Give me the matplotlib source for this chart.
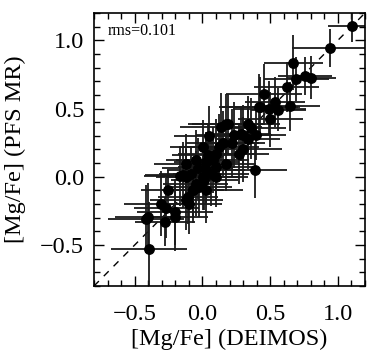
import matplotlib
matplotlib.use("Agg")
import matplotlib.pyplot as plt
from matplotlib.ticker import MultipleLocator
import numpy as np

plt.rcParams['font.family'] = ['Liberation Serif', 'DejaVu Serif']
plt.rcParams['mathtext.fontset'] = 'stix'

mg_deimos = [1.105, 0.939, 0.671, 0.693, 0.755, 0.804, 0.623, 0.456, 0.537, 0.493,
             0.561, 0.426, 0.645, 0.500, 0.419, 0.174, 0.137, 0.333, 0.358, 0.395,
             0.235, 0.284, 0.333, 0.149, 0.002, 0.272, 0.100, 0.039, 0.387, -0.047,
             0.076, -0.120, 0.174, 0.100, -0.035, 0.027, -0.083, -0.169, -0.120, 0.064,
             0.100, 0.002, -0.071, -0.022, 0.027, -0.108, -0.096, -0.255, -0.309, -0.267,
             -0.200, -0.199, -0.274, -0.402, -0.419, -0.397,
             0.186, 0.125, 0.027, -0.145, 0.015, -0.071, -0.120, 0.220, 0.300, 0.050,
             -0.050, 0.296]
mg_pfs = [1.105, 0.944, 0.837, 0.717, 0.736, 0.727, 0.658, 0.603, 0.548, 0.500,
          0.493, 0.512, 0.517, 0.420, 0.512, 0.390, 0.365, 0.390, 0.354, 0.305,
          0.305, 0.317, 0.280, 0.244, 0.219, 0.170, 0.170, 0.158, 0.048, 0.122,
          0.122, 0.097, 0.097, 0.072, 0.061, 0.048, 0.024, 0.004, 0.000, 0.024,
          0.000, 0.000, -0.098, -0.074, -0.098, -0.147, -0.196, -0.098, -0.196, -0.232,
          -0.257, -0.293, -0.330, -0.293, -0.310, -0.532,
          0.390, 0.219, 0.110, 0.012, -0.025, -0.098, -0.171, 0.250, 0.200, 0.300,
          -0.050, 0.305]
err_deimos = [0.18, 0.28, 0.22, 0.24, 0.20, 0.18, 0.24, 0.28, 0.22, 0.27,
              0.20, 0.28, 0.22, 0.24, 0.30, 0.28, 0.30, 0.24, 0.26, 0.22,
              0.28, 0.22, 0.24, 0.27, 0.24, 0.22, 0.28, 0.26, 0.24, 0.22,
              0.27, 0.24, 0.22, 0.28, 0.26, 0.29, 0.24, 0.26, 0.22, 0.28,
              0.24, 0.27, 0.22, 0.24, 0.27, 0.22, 0.24, 0.20, 0.27, 0.24,
              0.28, 0.24, 0.22, 0.24, 0.28, 0.28,
              0.26, 0.29, 0.24, 0.28, 0.25, 0.23, 0.27, 0.24, 0.29, 0.26,
              0.24, 0.22]
err_pfs = [0.12, 0.14, 0.20, 0.16, 0.14, 0.16, 0.18, 0.22, 0.18, 0.20,
           0.16, 0.22, 0.18, 0.20, 0.24, 0.22, 0.25, 0.20, 0.22, 0.18,
           0.24, 0.20, 0.22, 0.24, 0.20, 0.22, 0.25, 0.22, 0.20, 0.22,
           0.24, 0.22, 0.20, 0.24, 0.22, 0.24, 0.20, 0.22, 0.20, 0.24,
           0.22, 0.24, 0.20, 0.22, 0.24, 0.20, 0.22, 0.15, 0.24, 0.22,
           0.24, 0.25, 0.18, 0.25, 0.25, 0.35,
           0.22, 0.24, 0.22, 0.24, 0.22, 0.24, 0.22, 0.25, 0.24, 0.22,
           0.24, 0.22]
rms_text = "rms=0.101"
axis_range = [-0.8, 1.2]
tick_vals = [-0.5, 0.0, 0.5, 1.0]

fig = plt.figure(figsize=(3.82, 3.51), dpi=100)
ax = fig.add_axes([94/382, 1 - 286/351, (365-94)/382, (286-13)/351])

ax.plot(axis_range, axis_range, ls=(0, (5, 5)), color='black', lw=1.0, zorder=1)
ax.errorbar(mg_deimos, mg_pfs, xerr=err_deimos, yerr=err_pfs, fmt='o',
            color='black', ecolor='#1a1a1a', elinewidth=1.3, capsize=0,
            markersize=6.8, zorder=2)

ax.set_xlim(axis_range)
ax.set_ylim(axis_range)
ax.set_xticks(tick_vals)
ax.set_yticks(tick_vals)
ax.xaxis.set_minor_locator(MultipleLocator(0.1))
ax.yaxis.set_minor_locator(MultipleLocator(0.1))
ax.tick_params(which='both', direction='in', top=True, right=True, labelsize=17.5, width=1)
ax.tick_params(which='major', length=7)
ax.tick_params(which='minor', length=4)
ax.tick_params(axis='x', which='major', pad=13)
ax.tick_params(axis='y', which='major', pad=7)
fmt = plt.FuncFormatter(lambda v, p: f"{v:.1f}".replace('-', '\u2212'))
ax.xaxis.set_major_formatter(fmt)
ax.yaxis.set_major_formatter(fmt)
for s in ax.spines.values():
    s.set_linewidth(1.2)

ax.set_xlabel('[Mg/Fe] (DEIMOS)', fontsize=17.5, labelpad=3)
ax.set_ylabel('[Mg/Fe] (PFS MR)', fontsize=17.5, labelpad=10)
ax.text(0.052, 0.963, rms_text, transform=ax.transAxes, fontsize=11.5, va='top', ha='left')

fig.savefig('out.png', dpi=100)
